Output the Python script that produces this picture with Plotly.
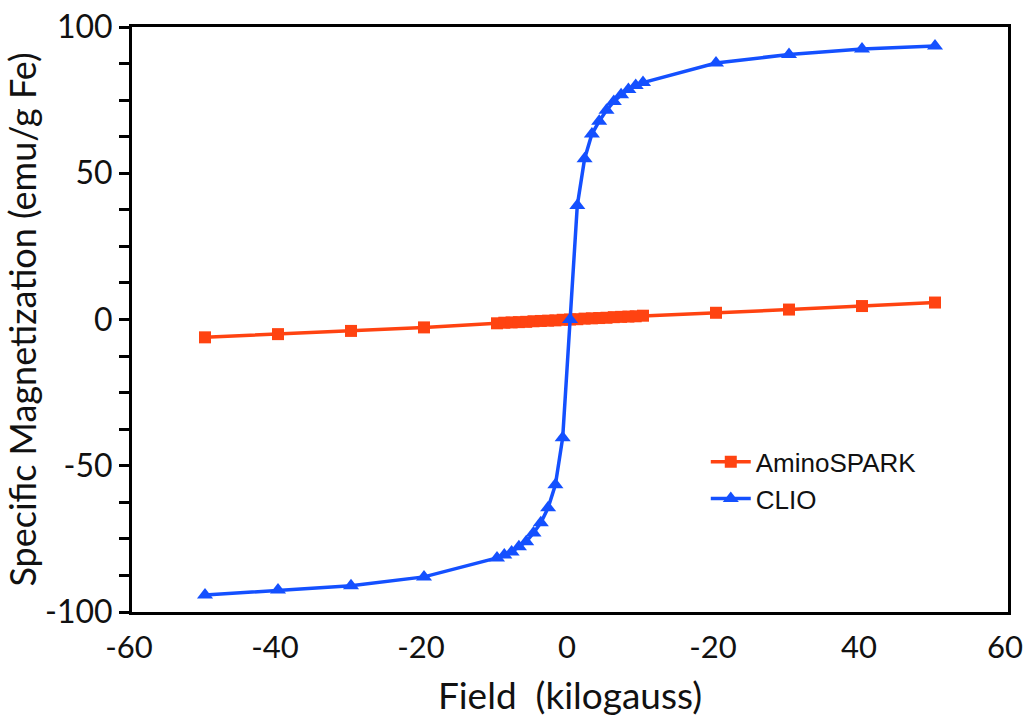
import plotly.graph_objects as go

field = [-50, -40, -30, -20, -10, -9, -8, -7, -6, -5, -4, -3, -2, -1, 0,
         1, 2, 3, 4, 5, 6, 7, 8, 9, 10, 20, 30, 40, 50]
amino = [-6.1, -5.0, -3.9, -2.7, -1.3, -1.1, -1.0, -0.9, -0.8, -0.6, -0.5, -0.4, -0.3, -0.1, 0.0,
         0.1, 0.3, 0.4, 0.5, 0.6, 0.8, 0.9, 1.0, 1.1, 1.3, 2.3, 3.4, 4.6, 5.8]
clio = [-94.2, -92.5, -91.0, -88.0, -81.5, -80.5, -79.5, -77.7, -76.0, -73.0, -69.5, -64.4, -56.5, -40.4, 0.0,
        39.0, 55.0, 63.4, 67.8, 71.5, 74.5, 76.8, 78.6, 80.0, 81.0, 87.7, 90.6, 92.5, 93.5]

x_tickvals = [-60, -40, -20, 0, 20, 40, 60]
x_ticktext = ["-60", "-40", "-20", "0", "-20", "40", "60"]
y_tickvals = [-100, -50, 0, 50, 100]
y_ticktext = ["-100", "-50", "0", "50", "100"]

fig = go.Figure()
fig.add_trace(go.Scatter(
    x=field, y=amino, name="AminoSPARK", mode="lines+markers",
    line=dict(color="#FF4311", width=3.5),
    marker=dict(symbol="square", size=12, color="#FF4311"),
))
fig.add_trace(go.Scatter(
    x=field, y=clio, name="CLIO", mode="lines+markers",
    line=dict(color="#1450FF", width=3.5),
    marker=dict(symbol="triangle-up", size=14, color="#1450FF"),
))

tick_font = dict(family="Lato, 'Open Sans', sans-serif", size=32, color="#111")
fig.update_layout(
    width=1025, height=717,
    margin=dict(l=132, r=17, t=27, b=105),
    plot_bgcolor="white", paper_bgcolor="white",
    showlegend=True,
    legend=dict(x=0.655, y=0.297, xanchor="left", yanchor="top",
                font=dict(family="'Liberation Sans', Arial, sans-serif", size=26, color="#111"),
                bgcolor="rgba(0,0,0,0)", tracegroupgap=4, itemwidth=40),
    xaxis=dict(
        range=[-60, 60], tickvals=x_tickvals, ticktext=x_ticktext,
        showline=True, linecolor="black", linewidth=3, mirror=True,
        showgrid=False, zeroline=False, ticks="", ticklabelstandoff=6,
        ticklabeloverflow="allow", ticklabelshift=-3,
        tickfont=dict(family="Lato, 'Open Sans', sans-serif", size=31, color="#111"),
        automargin=False,
        title=dict(text="Field  (kilogauss)", font=dict(family="Lato, 'Open Sans', sans-serif", size=37, color="#111"), standoff=20),
    ),
    yaxis=dict(
        range=[-100, 100], tickvals=y_tickvals, ticktext=y_ticktext,
        showline=True, linecolor="black", linewidth=3, mirror=True,
        showgrid=False, zeroline=False,
        ticks="outside", ticklen=10, tickwidth=3, tickcolor="black",
        minor=dict(dtick=12.5, tick0=0, ticks="outside", ticklen=10, tickwidth=3, tickcolor="black"),
        tickfont=tick_font, automargin=False,
        title=dict(text="Specific Magnetization (emu/g Fe)", font=dict(family="Lato, 'Open Sans', sans-serif", size=36, color="#111"), standoff=6),
    ),
)

fig.write_html("out.html", config={"displayModeBar": False},
               post_script="document.body.style.margin='0';document.body.style.overflow='hidden';")
